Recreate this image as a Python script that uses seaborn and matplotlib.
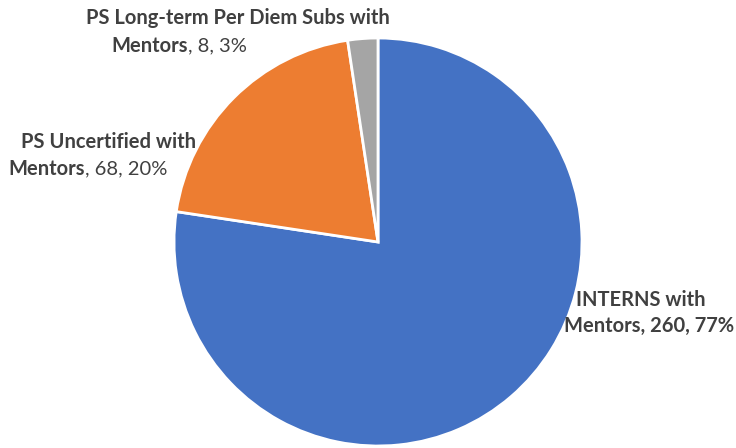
import seaborn as sns
import matplotlib.pyplot as plt

# Data
categories = ["INTERNS with Mentors", "PS Uncertified with Mentors",
              "PS Long-term Per Diem Subs with Mentors"]
counts = [260, 68, 8]
percents = ["77%", "20%", "3%"]

sns.set_theme(style="white")
plt.rcParams["font.family"] = ["Lato", "DejaVu Sans"]

colors = ["#4472C4", "#ED7D31", "#A5A5A5"]
text_color = "#404040"

W, H = 736, 448
fig = plt.figure(figsize=(W / 100, H / 100), dpi=100)
ax = fig.add_axes([174 / W, 2 / H, 408 / W, 408 / H])
ax.pie(counts, colors=colors, startangle=90, counterclock=False,
       wedgeprops=dict(edgecolor="white", linewidth=2))
ax.set_xlim(-1, 1)
ax.set_ylim(-1, 1)
ax.axis("off")


def put(x, y, s, ha="center", weight="bold"):
    fig.text(x / W, 1 - y / H, s, ha=ha, va="center", fontsize=14.5,
             fontweight=weight, color=text_color)


# Labels: first line is name, second line "Mentors" + values
first_lines = [c.rsplit(" ", 1)[0] for c in categories]
vals = [f", {n}, {p}" for n, p in zip(counts, percents)]

# INTERNS (all bold)
put(641, 300, first_lines[0])
put(649, 326, "Mentors" + vals[0])

# PS Uncertified
put(108, 142, first_lines[1])
put(85, 169, "Mentors", ha="right")
put(85, 169, vals[1], ha="left", weight="normal")

# PS Long-term
put(238, 18, first_lines[2])
put(188, 46, "Mentors", ha="right")
put(188, 46, vals[2], ha="left", weight="normal")

fig.savefig("out.png", dpi=100)
